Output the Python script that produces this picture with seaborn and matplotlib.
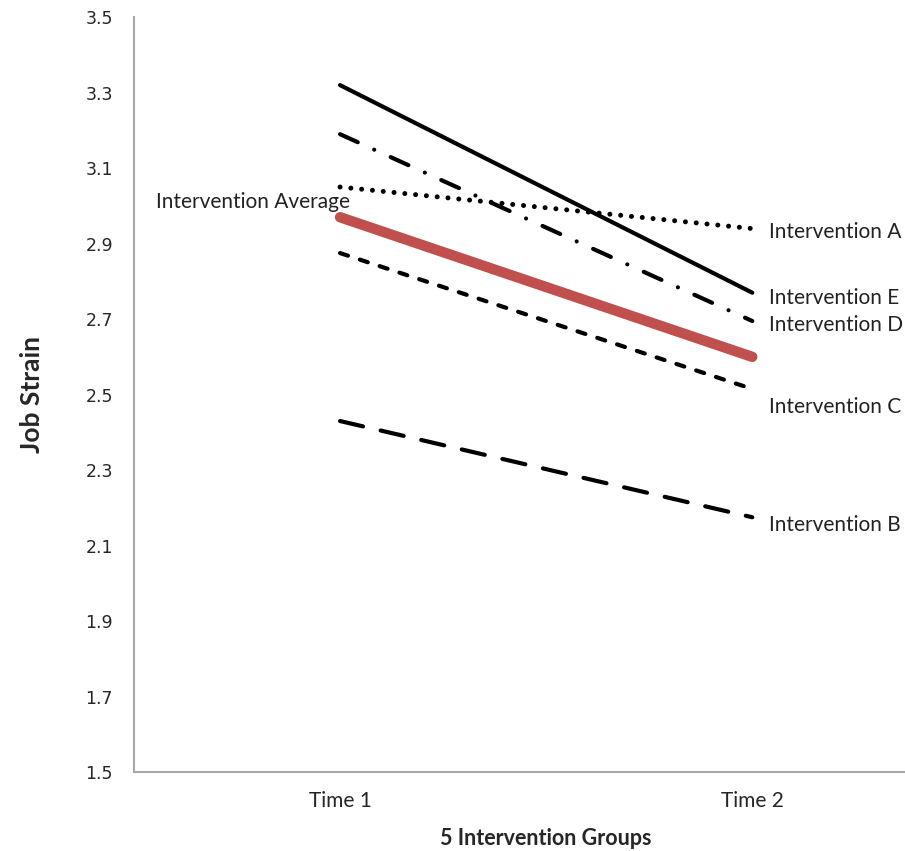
import seaborn as sns
import matplotlib.pyplot as plt
import pandas as pd

# Job strain for each intervention group at two time points
times = ["Time 1", "Time 2"]
groups = ["Intervention A", "Intervention E", "Intervention D", "Intervention C", "Intervention B"]
strain_a = [3.05, 2.94]
strain_e = [3.32, 2.77]
strain_d = [3.19, 2.695]
strain_c = [2.875, 2.515]
strain_b = [2.43, 2.175]
strain_avg = [2.97, 2.60]

sns.set_style("white")
plt.rcParams['font.family'] = ['Lato', 'DejaVu Sans']
plt.rcParams['lines.scale_dashes'] = False

rows = []
for g, vals in zip(groups, [strain_a, strain_e, strain_d, strain_c, strain_b]):
    for t, v in zip(times, vals):
        rows.append({"group": g, "time": t, "strain": v})
for t, v in zip(times, strain_avg):
    rows.append({"group": "Intervention Average", "time": t, "strain": v})
df = pd.DataFrame(rows)

line_styles = {
    "Intervention A": (0, (0.01, 7.8)),
    "Intervention E": "-",
    "Intervention D": (0, (14, 13, 0.01, 13)),
    "Intervention C": (0, (6, 9)),
    "Intervention B": (0, (17, 13)),
}
line_widths = {"Intervention A": 3.6, "Intervention E": 3.0, "Intervention D": 3.0,
               "Intervention C": 3.0, "Intervention B": 3.0}

fig = plt.figure(figsize=(9.05, 8.51), dpi=100)
ax = fig.add_axes([0.148, 0.0928, 0.911, 0.887])

for g in groups:
    sub = df[df.group == g]
    sns.lineplot(data=sub, x="time", y="strain", ax=ax, sort=False, color="black",
                 linewidth=line_widths[g], linestyle=line_styles[g],
                 solid_capstyle="round", dash_capstyle="round")

sns.lineplot(data=df[df.group == "Intervention Average"], x="time", y="strain",
             ax=ax, color="#c0504d", linewidth=7.5, solid_capstyle="round", sort=False)

# right-hand labels
label_y = {"Intervention A": 2.93, "Intervention E": 2.755, "Intervention D": 2.685,
           "Intervention C": 2.468, "Intervention B": 2.155}
for g in groups:
    ax.text(1.04, label_y[g], g, fontsize=15, va="center", ha="left", color="#222222")
ax.text(0.025, 3.01, "Intervention Average", fontsize=15, va="center", ha="right",
        color="#222222")

ax.set_xlim(-0.5, 1.5)
ax.set_ylim(1.5, 3.5)
ax.set_yticks([1.5, 1.7, 1.9, 2.1, 2.3, 2.5, 2.7, 2.9, 3.1, 3.3, 3.5])
ax.set_yticklabels(["1.5", "1.7", "1.9", "2.1", "2.3", "2.5", "2.7", "2.9", "3.1", "3.3", "3.5"],
                   family="DejaVu Sans", fontsize=12.5)
ax.set_xticks([0, 1])
ax.set_xticklabels(times, fontsize=15)
ax.tick_params(axis="y", length=0, pad=15)
ax.tick_params(axis="x", length=0, pad=14)
ax.set_xlabel("5 Intervention Groups", fontsize=15.5, fontweight="bold", labelpad=12)
ax.set_ylabel("Job Strain", fontsize=19, fontweight="bold", labelpad=30)

for s in ["top", "right"]:
    ax.spines[s].set_visible(False)
for s in ["left", "bottom"]:
    ax.spines[s].set_color("#a6a6a6")
    ax.spines[s].set_linewidth(1.5)

fig.savefig("out.png", dpi=100)
